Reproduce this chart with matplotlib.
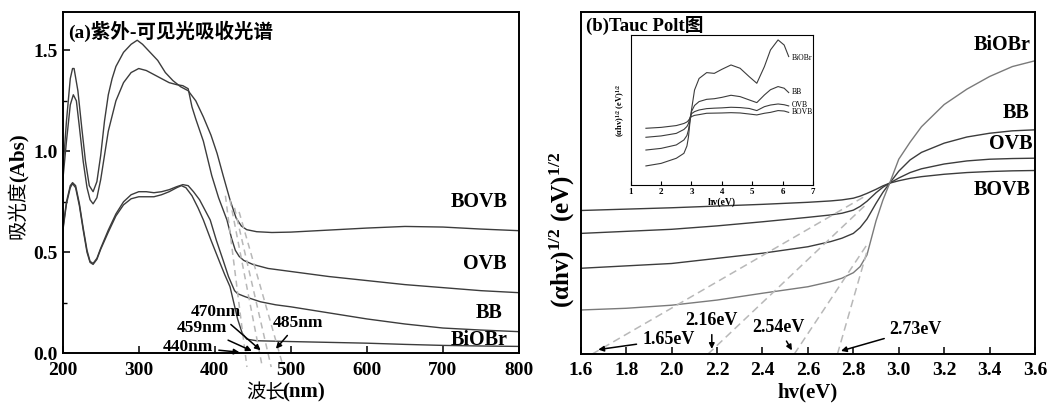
import matplotlib
matplotlib.use('Agg')
import matplotlib.pyplot as plt

plt.rcParams['font.family'] = ['Liberation Serif', 'Noto Sans CJK SC']
plt.rcParams['font.weight'] = 'bold'
plt.rcParams['axes.labelweight'] = 'bold'
plt.rcParams['mathtext.fontset'] = 'custom'
plt.rcParams['mathtext.rm'] = 'Liberation Serif:bold'
plt.rcParams['mathtext.it'] = 'Liberation Serif:bold'
plt.rcParams['mathtext.bf'] = 'Liberation Serif:bold'

# ---------------- panel (a) data: UV-vis absorbance ----------------
wl_bovb = [200, 205, 210, 213, 215, 220, 225, 230, 235, 240, 245, 250, 255, 260, 265, 270, 280, 290,
           298, 305, 315, 325, 335, 345, 355, 365, 375, 385, 395, 403, 411, 420, 428, 435, 442, 455,
           475, 500, 550, 600, 650, 700, 750, 800]
abs_bovb = [0.89, 1.15, 1.36, 1.41, 1.41, 1.30, 1.12, 0.95, 0.83, 0.80, 0.85, 0.98, 1.15, 1.28, 1.36, 1.42,
            1.49, 1.53, 1.55, 1.53, 1.49, 1.45, 1.39, 1.35, 1.32, 1.30, 1.25, 1.17, 1.08, 0.99, 0.88, 0.76,
            0.67, 0.63, 0.612, 0.602, 0.598, 0.60, 0.61, 0.62, 0.628, 0.625, 0.615, 0.607]

wl_ovb = [200, 205, 210, 214, 218, 222, 227, 232, 236, 240, 245, 250, 255, 260, 270, 280, 290, 300, 310,
          320, 330, 340, 350, 358, 365, 370, 375, 385, 396, 405, 416, 422, 427, 432, 438, 450, 470, 500,
          550, 600, 650, 700, 750, 800]
abs_ovb = [0.85, 1.05, 1.23, 1.28, 1.25, 1.12, 0.95, 0.82, 0.76, 0.74, 0.77, 0.86, 0.98, 1.10, 1.25, 1.34,
           1.39, 1.41, 1.40, 1.38, 1.36, 1.34, 1.33, 1.325, 1.31, 1.22, 1.16, 1.05, 0.88, 0.77, 0.66, 0.57,
           0.51, 0.48, 0.46, 0.44, 0.42, 0.405, 0.38, 0.36, 0.34, 0.325, 0.31, 0.30]

wl_bb = [200, 205, 210, 213, 217, 222, 227, 232, 236, 240, 245, 250, 260, 270, 280, 290, 300, 310, 320,
         330, 340, 350, 358, 365, 372, 380, 387, 394, 402, 411, 418, 422, 426, 430, 440, 460, 480, 500,
         525, 550, 600, 650, 700, 750, 800]
abs_bb = [0.61, 0.75, 0.83, 0.845, 0.83, 0.74, 0.62, 0.51, 0.455, 0.445, 0.47, 0.52, 0.61, 0.69, 0.75,
          0.785, 0.80, 0.80, 0.795, 0.80, 0.81, 0.825, 0.835, 0.83, 0.80, 0.76, 0.71, 0.66, 0.56, 0.46,
          0.38, 0.345, 0.31, 0.295, 0.28, 0.255, 0.24, 0.23, 0.215, 0.20, 0.17, 0.145, 0.125, 0.115, 0.107]

wl_biobr = [200, 205, 210, 213, 217, 222, 227, 232, 236, 240, 245, 250, 260, 270, 280, 290, 300, 310,
            320, 330, 340, 350, 356, 362, 370, 378, 385, 395, 407, 413, 420, 425, 430, 436, 442, 455,
            500, 550, 600, 650, 700, 750, 800]
abs_biobr = [0.60, 0.74, 0.82, 0.84, 0.82, 0.73, 0.61, 0.50, 0.45, 0.44, 0.465, 0.515, 0.60, 0.68, 0.735,
             0.765, 0.775, 0.775, 0.775, 0.785, 0.80, 0.82, 0.83, 0.82, 0.78, 0.72, 0.66, 0.56, 0.446,
             0.39, 0.33, 0.25, 0.17, 0.10, 0.07, 0.062, 0.058, 0.054, 0.05, 0.044, 0.039, 0.036, 0.034]

# tangent lines: top point and x-intercept (nm)
edge_nm = [440, 459, 470, 485]
edge_top = [(414, 0.78), (420, 0.76), (426, 0.72), (432, 0.70)]

# ---------------- panel (b) data: Tauc plot ----------------
hv = [1.6, 1.8, 2.0, 2.2, 2.4, 2.6, 2.7, 2.75, 2.8, 2.83, 2.86, 2.9, 2.93, 2.96, 3.0, 3.05, 3.1, 3.2,
      3.3, 3.4, 3.5, 3.6]
tauc_bovb = [0.42, 0.424, 0.428, 0.433, 0.438, 0.444, 0.448, 0.451, 0.456, 0.462, 0.47, 0.482, 0.492,
             0.50, 0.507, 0.514, 0.519, 0.526, 0.531, 0.534, 0.536, 0.537]
tauc_ovb = [0.353, 0.359, 0.365, 0.375, 0.387, 0.400, 0.407, 0.412, 0.421, 0.432, 0.447, 0.472, 0.488,
            0.50, 0.515, 0.531, 0.542, 0.556, 0.565, 0.570, 0.572, 0.573]
tauc_bb = [0.251, 0.258, 0.265, 0.28, 0.295, 0.314, 0.329, 0.339, 0.353, 0.37, 0.395, 0.441, 0.473,
           0.50, 0.535, 0.568, 0.59, 0.617, 0.635, 0.646, 0.653, 0.656]
tauc_biobr = [0.129, 0.134, 0.143, 0.158, 0.178, 0.197, 0.212, 0.222, 0.238, 0.256, 0.29, 0.39, 0.45,
              0.50, 0.57, 0.62, 0.665, 0.73, 0.775, 0.812, 0.841, 0.858]

gap_ev = [1.65, 2.16, 2.54, 2.73]
gap_top = [(2.86, 0.465), (2.86, 0.44), (2.86, 0.32), (2.86, 0.30)]

# inset: full range Tauc
hv_in = [1.5, 2.0, 2.5, 2.75, 2.85, 2.9, 2.95, 3.0, 3.1, 3.25, 3.5, 3.75, 4.0, 4.3, 4.6, 4.9, 5.15,
         5.4, 5.6, 5.85, 6.05, 6.2]
in_biobr = [0.127, 0.144, 0.178, 0.211, 0.26, 0.32, 0.42, 0.50, 0.633, 0.71, 0.749, 0.744, 0.771, 0.80,
            0.778, 0.722, 0.678, 0.789, 0.90, 0.967, 0.933, 0.856]
in_bb = [0.233, 0.244, 0.267, 0.30, 0.33, 0.367, 0.43, 0.49, 0.53, 0.556, 0.571, 0.575, 0.584, 0.598,
         0.589, 0.567, 0.549, 0.60, 0.635, 0.656, 0.645, 0.616]
in_ovb = [0.318, 0.327, 0.344, 0.37, 0.39, 0.41, 0.45, 0.475, 0.489, 0.50, 0.509, 0.512, 0.514, 0.518,
          0.516, 0.51, 0.496, 0.522, 0.533, 0.54, 0.535, 0.527]
in_bovb = [0.378, 0.384, 0.396, 0.41, 0.42, 0.43, 0.445, 0.456, 0.464, 0.469, 0.478, 0.479, 0.48, 0.482,
           0.48, 0.473, 0.467, 0.478, 0.484, 0.496, 0.493, 0.484]

dark = '#3c3c3c'
light = '#7a7a7a'
dash = '#b8b8b8'

fig = plt.figure(figsize=(10.64, 4.07), dpi=100)
axA = fig.add_axes([0.0589, 0.132, 0.4289, 0.8386])
axB = fig.add_axes([0.5458, 0.130, 0.4270, 0.8400])
axIn = fig.add_axes([0.5928, 0.5455, 0.1713, 0.3686])

for ax in (axA, axB):
    for s in ax.spines.values():
        s.set_linewidth(1.4)
    ax.tick_params(direction='in', length=5, width=1.1, labelsize=14)
    ax.tick_params(axis='x', pad=6)
    ax.tick_params(which='minor', direction='in', length=3, width=1)

# ---- panel (a)
axA.plot(wl_bovb, abs_bovb, color=dark, lw=1.0)
axA.plot(wl_ovb, abs_ovb, color=dark, lw=1.0)
axA.plot(wl_bb, abs_bb, color=dark, lw=1.0)
axA.plot(wl_biobr, abs_biobr, color=dark, lw=1.0)
for x0, (xt, yt) in zip(edge_nm, edge_top):
    s = yt / (xt - x0)
    axA.plot([xt, x0 - 0.068 / s], [yt, -0.068], ls=(0, (4, 3)), color=dash, lw=1.1, clip_on=False)
axA.set_xlim(200, 800)
axA.set_ylim(0, 1.69)
axA.set_xticks([200, 300, 400, 500, 600, 700, 800])
axA.set_yticks([0.0, 0.5, 1.0, 1.5])
axA.set_yticks([0.25, 0.75, 1.25], minor=True)
# axis titles: Chinese part regular, unit part bold
axA.text(0.444, -0.116, '波长', transform=axA.transAxes, fontsize=14, fontweight='normal',
         ha='center', va='center')
axA.text(0.527, -0.116, '(nm)', transform=axA.transAxes, fontsize=15, ha='center', va='center')
axA.text(-0.097, 0.42, '吸光度', transform=axA.transAxes, fontsize=14, fontweight='normal',
         rotation=90, ha='center', va='center')
axA.text(-0.097, 0.574, '(Abs)', transform=axA.transAxes, fontsize=15, rotation=90,
         ha='center', va='center')
axA.text(0.012, 0.975, '(a)紫外-可见光吸收光谱', transform=axA.transAxes, fontsize=14, va='top')
for txt, x, y in [('BOVB', 747, 0.75), ('OVB', 755, 0.44), ('BB', 760, 0.20), ('BiOBr', 748, 0.066)]:
    axA.text(x, y, txt, fontsize=14.5, ha='center', va='center')
arrow = dict(arrowstyle='-|>', color='black', lw=1.1, mutation_scale=8)
axA.annotate('440nm', xy=(436, 0.004), xytext=(398, 0.03), fontsize=12.5, ha='right', va='center',
             arrowprops=arrow)
axA.annotate('459nm', xy=(452, 0.006), xytext=(416, 0.124), fontsize=12.5, ha='right', va='center',
             arrowprops=arrow)
axA.annotate('470nm', xy=(463, 0.006), xytext=(402, 0.205), fontsize=12.5, ha='center', va='center',
             arrowprops=arrow)
axA.annotate('485nm', xy=(478, 0.012), xytext=(510, 0.152), fontsize=12.5, ha='center', va='center',
             arrowprops=arrow)

# ---- panel (b)
axB.plot(hv, tauc_bovb, color=dark, lw=1.0)
axB.plot(hv, tauc_ovb, color=dark, lw=1.0)
axB.plot(hv, tauc_bb, color=dark, lw=1.0)
axB.plot(hv, tauc_biobr, color=light, lw=1.0)
for x0, (xt, yt) in zip(gap_ev, gap_top):
    axB.plot([x0, xt], [0, yt], ls=(0, (5, 3)), color=dash, lw=1.1)
axB.set_xlim(1.6, 3.6)
axB.set_ylim(0, 1)
axB.set_xticks([1.6, 1.8, 2.0, 2.2, 2.4, 2.6, 2.8, 3.0, 3.2, 3.4, 3.6])
axB.set_yticks([])
axB.set_xlabel('hv(eV)', fontsize=15, labelpad=2)
axB.text(-0.040, 0.363, '(αhv)$^{1/2}$ (eV)$^{1/2}$', transform=axB.transAxes, fontsize=18,
         rotation=90, ha='center', va='center')
axB.text(0.012, 0.988, '(b)Tauc Polt图', transform=axB.transAxes, fontsize=13.5, va='top')
for txt, x, y in [('BiOBr', 3.453, 0.904), ('BB', 3.516, 0.706), ('OVB', 3.493, 0.614), ('BOVB', 3.453, 0.48)]:
    axB.text(x, y, txt, fontsize=14.5, ha='center', va='center')
axB.annotate('1.65eV', xy=(1.665, 0.012), xytext=(1.87, 0.042), fontsize=13, ha='left', va='center',
             arrowprops=arrow)
axB.annotate('2.16eV', xy=(2.177, 0.007), xytext=(2.177, 0.098), fontsize=13, ha='center', va='center',
             arrowprops=arrow)
axB.annotate('2.54eV', xy=(2.536, 0.004), xytext=(2.47, 0.078), fontsize=13, ha='center', va='center',
             arrowprops=arrow)
axB.annotate('2.73eV', xy=(2.734, 0.007), xytext=(2.96, 0.072), fontsize=13, ha='left', va='center',
             arrowprops=arrow)

# ---- inset
axIn.plot(hv_in, in_biobr, color=dark, lw=0.8)
axIn.plot(hv_in, in_bb, color=dark, lw=0.8)
axIn.plot(hv_in, in_ovb, color=dark, lw=0.8)
axIn.plot(hv_in, in_bovb, color=dark, lw=0.8)
axIn.set_xlim(1, 7)
axIn.set_ylim(0, 1)
axIn.set_xticks([1, 2, 3, 4, 5, 6, 7])
axIn.set_yticks([])
axIn.tick_params(direction='in', length=3, width=0.8, labelsize=6.5, pad=2)
for s in axIn.spines.values():
    s.set_linewidth(0.8)
axIn.set_xlabel('hv(eV)', fontsize=7, labelpad=1)
axIn.set_ylabel('(αhv)$^{1/2}$ (eV)$^{1/2}$', fontsize=6, labelpad=3)
for txt, x, y in [('BiOBr', 6.3, 0.849), ('BB', 6.3, 0.618), ('OVB', 6.3, 0.535), ('BOVB', 6.3, 0.484)]:
    axIn.text(x, y, txt, fontsize=5.5, fontweight='normal', ha='left', va='center')

fig.savefig('out.png', dpi=100)
